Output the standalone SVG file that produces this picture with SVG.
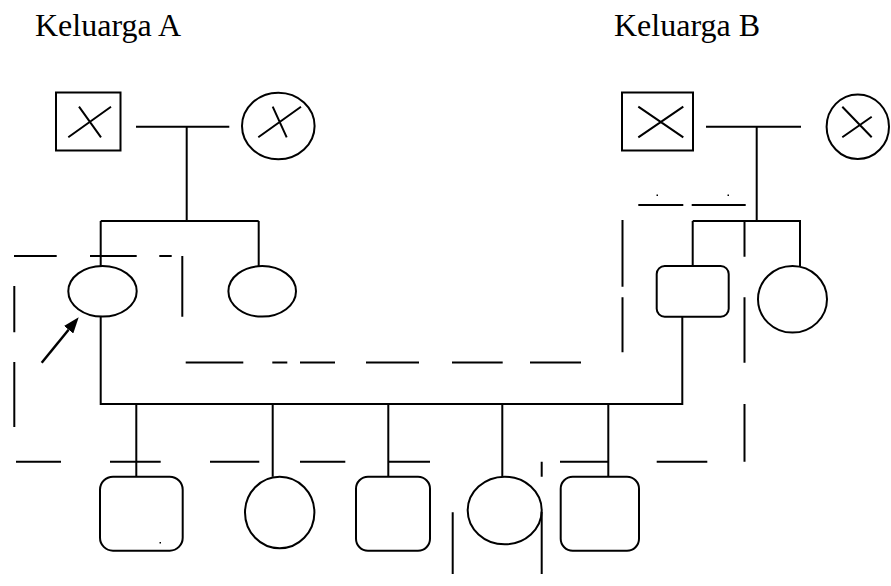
<svg xmlns="http://www.w3.org/2000/svg" width="891" height="586" viewBox="0 0 891 586">
<style>
.s{fill:#fff;stroke:#000;stroke-width:2}
.l{fill:none;stroke:#000;stroke-width:2}
.d{fill:none;stroke:#000;stroke-width:2}
.t{font-family:"Liberation Serif","Times New Roman",serif;font-size:32px;fill:#000}
</style>
<defs>
<marker id="ah" markerUnits="userSpaceOnUse" viewBox="0 0 16 12" refX="0" refY="6" markerWidth="16" markerHeight="12" orient="auto">
<path d="M0,0 L16,6 L0,12 z" fill="#000"/>
</marker>
</defs>
<rect width="891" height="586" fill="#fff"/>
<text class="t" x="35" y="36">Keluarga A</text>
<text class="t" x="614" y="36">Keluarga B</text>

<g id="connectors" class="l">
<path d="M136,126.7H229.3M186.7,126.7V221M100.7,221H258.7M100.7,221V266M258.7,221V266"/>
<path d="M706,126.7H801M756.7,126.7V221M692.7,221H801M692.7,221V266M800,221V266"/>
<path d="M100.7,316.7V404H682.3V316.7"/>
<path d="M136.3,404V476.7M272.7,404V476.7M388.3,404V476.7M502.3,404V476.7M608.3,404V476.7"/>
<line x1="41.7" y1="362.7" x2="68.6" y2="329.7" stroke-width="2.5" marker-end="url(#ah)"/>
</g>

<g id="a-father">
<rect class="s" x="56" y="92.5" width="64.5" height="58"/>
<path class="l" d="M68.3,137.3L111,106.7M79,106.7L101,137.3"/>
</g>
<g id="a-mother">
<ellipse class="s" cx="278.3" cy="126" rx="36.3" ry="33.3"/>
<path class="l" d="M258.3,137.3L301,106.7M272.7,106.7L286.7,137.3"/>
</g>
<g id="a-proband">
<ellipse class="s" cx="102.5" cy="291.3" rx="34.2" ry="25.3"/>
</g>
<g id="a-daughter">
<ellipse class="s" cx="262.2" cy="291.3" rx="33.8" ry="25.3"/>
</g>
<g id="b-father">
<rect class="s" x="622" y="92.5" width="71" height="58"/>
<path class="l" d="M638.3,137.3L683.3,106.7M638.3,106.7L683.3,137.3"/>
</g>
<g id="b-mother">
<ellipse class="s" cx="857.8" cy="126.7" rx="31.2" ry="32.3"/>
<path class="l" d="M842.3,106.7L871.7,137.3M842.3,137.3L871.7,116.7"/>
</g>
<g id="b-son">
<rect class="s" x="656.7" y="266" width="72" height="50.7" rx="8"/>
</g>
<g id="b-daughter">
<ellipse class="s" cx="792.5" cy="299.3" rx="34.5" ry="33.3"/>
</g>
<g id="child1">
<rect class="s" x="100" y="476.7" width="82.7" height="74" rx="13"/>
<rect x="159.5" y="542" width="1.5" height="1.5" fill="#000"/>
</g>
<g id="child2">
<ellipse class="s" cx="279.7" cy="512.5" rx="34.7" ry="35.8"/>
</g>
<g id="child3">
<rect class="s" x="356" y="476.7" width="74" height="74" rx="12"/>
</g>
<g id="child4">
<ellipse class="s" cx="504.7" cy="510.5" rx="37" ry="33.8"/>
</g>
<g id="child5">
<rect class="s" x="560.7" y="476.7" width="78.3" height="74" rx="12"/>
</g>

<g id="dashed-boundaries" class="d">
<path d="M14,256H56.7M90,256H136.7M159.3,256H171.7M182.3,256V316.7"/>
<path d="M14.3,286V332.3M14.3,362V427"/>
<path d="M185.7,362.5H243.3M272.3,362.5H287.3M300,362.5H335M366,362.5H419M452,362.5H502.7M530,362.5H581"/>
<path d="M622.5,220V286.7M622.5,297.3V352.3"/>
<path d="M638.3,205H683.3M691.7,205H745.7"/>
<path d="M744.5,221V256.7M744.5,297.3V362.7M744.5,404V461.7"/>
<path d="M16,461.7H61M110,461.7H160.7M210,461.7H259.3M300,461.7H345.3M388.3,461.7H430M560,461.7H608.3M656.7,461.7H707.3"/>
<path d="M541.7,461.7V476.7M452.7,512.3V574M541.7,511.7V574"/>
</g>
<rect x="656.5" y="194.5" width="1.5" height="1.5" fill="#000"/>
<rect x="727.5" y="194.5" width="1.5" height="1.5" fill="#000"/>
</svg>
